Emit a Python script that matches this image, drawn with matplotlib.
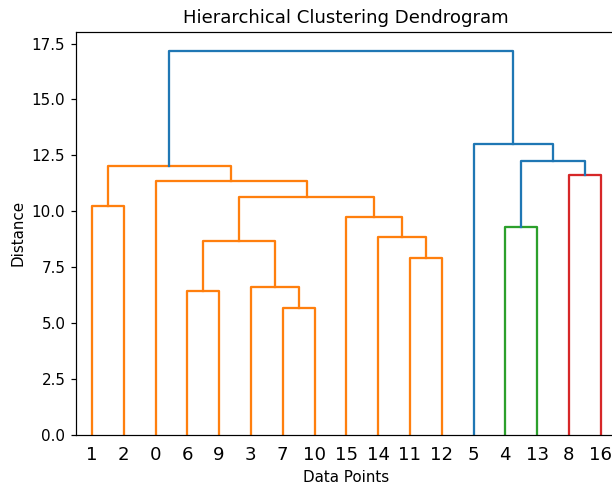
import matplotlib
matplotlib.use("Agg")
import matplotlib.pyplot as plt

# leaves 0..16, each merge makes a new node numbered 17, 18, ...
n_leaves = 17
merge_left = [7, 6, 3, 11, 18, 14, 4, 15, 1, 21, 0, 8, 25, 23, 5, 29]
merge_right = [10, 9, 17, 12, 19, 20, 13, 22, 2, 24, 26, 16, 27, 28, 30, 31]
merge_height = [5.66, 6.45, 6.63, 7.89, 8.68, 8.85, 9.31, 9.75,
                10.25, 10.63, 11.36, 11.62, 12.02, 12.23, 12.99, 17.17]
merge_color = ["C1", "C1", "C1", "C1", "C1", "C1", "C2", "C1",
               "C1", "C1", "C1", "C3", "C1", "C0", "C0", "C0"]

root = n_leaves + len(merge_height) - 1
leaf_order = []
xpos = {}
ypos = {}


def place(node):
	if node < n_leaves:
		xpos[node] = 5 + 10 * len(leaf_order)
		ypos[node] = 0.0
		leaf_order.append(node)
		return
	k = node - n_leaves
	place(merge_left[k])
	place(merge_right[k])
	xpos[node] = (xpos[merge_left[k]] + xpos[merge_right[k]]) / 2
	ypos[node] = merge_height[k]


place(root)

DPI = 109
fig = plt.figure(figsize=(612 / DPI, 484 / DPI), dpi=DPI)
ax = fig.add_axes([76 / 612, 49 / 484, 540.6 / 612, 403.3 / 484])

for k in range(len(merge_height)):
	a, b = merge_left[k], merge_right[k]
	h = merge_height[k]
	ax.plot([xpos[a], xpos[a], xpos[b], xpos[b]], [ypos[a], h, h, ypos[b]],
			color=merge_color[k], lw=1.5)

ax.set_xlim(0, 10 * n_leaves)
ax.set_ylim(0, max(merge_height) * 1.05)
ax.set_xticks([5 + 10 * i for i in range(n_leaves)])
ax.set_xticklabels([str(i) for i in leaf_order], fontsize=12)
for line in ax.get_xticklines():
	line.set_visible(False)

ax.set_title("Hierarchical Clustering Dendrogram")
ax.set_xlabel("Data Points")
ax.set_ylabel("Distance")

fig.savefig("out.png", dpi=DPI)
